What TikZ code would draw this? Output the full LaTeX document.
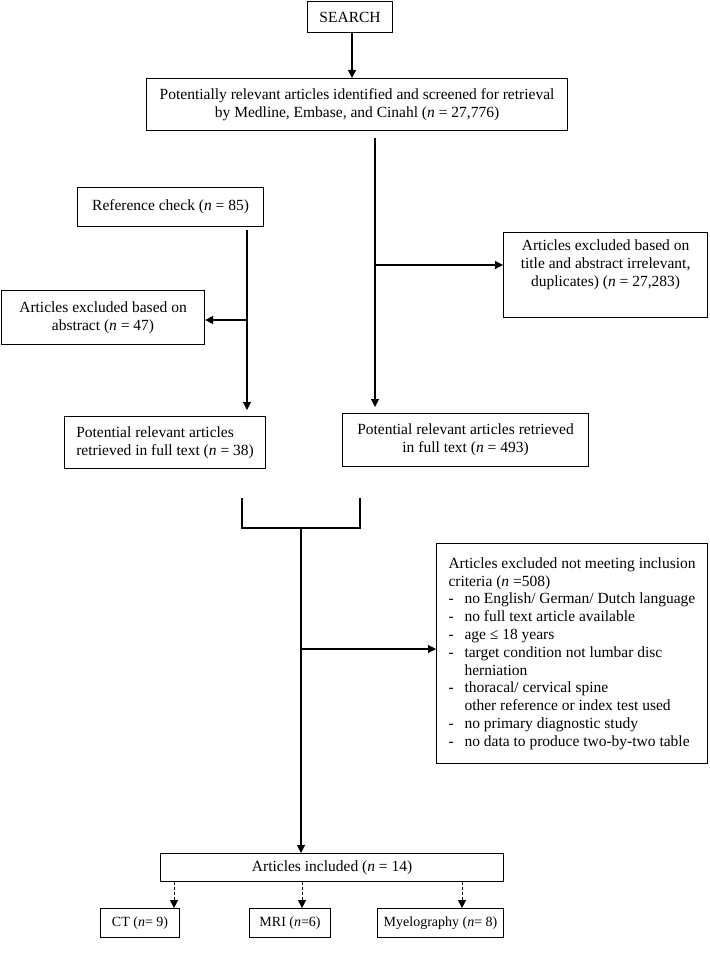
\documentclass[tikz,border=0pt]{standalone}
\usepackage{fontspec}
\setmainfont{Liberation Serif}
\usetikzlibrary{arrows.meta,calc}
\newcommand{\lstdash}{\makebox[16pt][l]{-}}
\newcommand{\lstcont}{\hspace*{16pt}}
\begin{document}
\begin{tikzpicture}[x=1pt,y=-1pt,
  box/.style={draw, line width=1.1pt, anchor=north west, inner sep=4pt,
    font=\fontsize{15.5}{17.8}\selectfont, align=center},
  smallbox/.style={box, inner xsep=2pt, font=\fontsize{14}{16}\selectfont},
  arr/.style={line width=1.1pt, -{Triangle[length=8pt,width=8pt]}},
  darr/.style={line width=1pt, dash pattern=on 3pt off 2pt, -{Triangle[length=8pt,width=8pt]}},
  ln/.style={line width=1.1pt}]
\useasboundingbox (0,0) rectangle (709,957);

\node[box, minimum width=85pt, minimum height=31pt] (search) at (307,1) {SEARCH};
\node[box, minimum width=421pt, minimum height=52pt] (top) at (146,78)
  {Potentially relevant articles identified and screened for retrieval\\ by Medline, Embase, and Cinahl (\textit{n} = 27,776)};
\node[box, minimum width=186pt, minimum height=39pt] (ref) at (77,187) {Reference check (\textit{n} = 85)};
\node[box, minimum width=203pt, minimum height=54pt] (exabs) at (1,290) {Articles excluded based on\\ abstract (\textit{n} = 47)};
\node[box, minimum width=204pt, minimum height=85pt] (extitle) at (503,232)
  {Articles excluded based on\\ title and abstract irrelevant,\\ duplicates) (\textit{n} = 27,283)\rule[-24pt]{0pt}{24pt}};
\node[box, align=left, minimum width=201pt, minimum height=52pt] (f38) at (64,416)
  {Potential relevant articles\\ retrieved in full text (\textit{n} = 38)};
\node[box, minimum width=246pt, minimum height=53pt] (f493) at (342,413)
  {Potential relevant articles retrieved\\ in full text (\textit{n} = 493)};
\node[box, align=left, minimum width=271pt, minimum height=220pt] (excrit) at (436,543)
  {Articles excluded not meeting inclusion\\
   criteria (\textit{n} =508)\\
   \lstdash no English/ German/ Dutch language\\
   \lstdash no full text article available\\
   \lstdash age ≤ 18 years\\
   \lstdash target condition not lumbar disc\\
   \lstcont herniation\\
   \lstdash thoracal/ cervical spine\\
   \lstcont other reference or index test used\\
   \lstdash no primary diagnostic study\\
   \lstdash no data to produce two-by-two table};
\node[box, minimum width=343pt, minimum height=28pt] (incl) at (160,853) {Articles included (\textit{n} = 14)};
\node[smallbox, minimum width=79pt, minimum height=29pt] (ct) at (100,908) {CT (\textit{n}= 9)};
\node[smallbox, minimum width=81pt, minimum height=29pt] (mri) at (249,908) {MRI (\textit{n}=6)};
\node[smallbox, minimum width=126pt, minimum height=29pt] (myelo) at (377,908) {Myelography (\textit{n}= 8)};

% connectors
\draw[arr] (search.south -| 352,0) -- (top.north -| 352,0);
\coordinate (s1) at (375,138);
\coordinate (b1) at (375,265);
\draw[arr] (s1) -- ($(s1 |- f493.north)+(0,-6)$);
\draw[arr] (b1) -- (b1 -| extitle.west);

\coordinate (r1) at (247,230);
\coordinate (r2) at (247,320);
\draw[arr] (r1) -- ($(r1 |- f38.north)+(0,-6)$);
\draw[arr] (r2) -- (r2 -| exabs.east);

\coordinate (bl) at (242,498);
\coordinate (br) at (360,498);
\coordinate (bm) at (301,528);
\coordinate (m2) at (301,649);
\draw[ln] (bl) |- (bm) -| (br);
\draw[arr] (bm) -- (bm |- incl.north);
\draw[arr] (m2) -- (m2 -| excrit.west);

\coordinate (xct) at (174,0);
\coordinate (xmri) at (302,0);
\coordinate (xmy) at (462,0);
\draw[darr] (incl.south -| xct) -- (ct.north -| xct);
\draw[darr] (incl.south -| xmri) -- (mri.north -| xmri);
\draw[darr] (incl.south -| xmy) -- (myelo.north -| xmy);
\end{tikzpicture}
\end{document}
